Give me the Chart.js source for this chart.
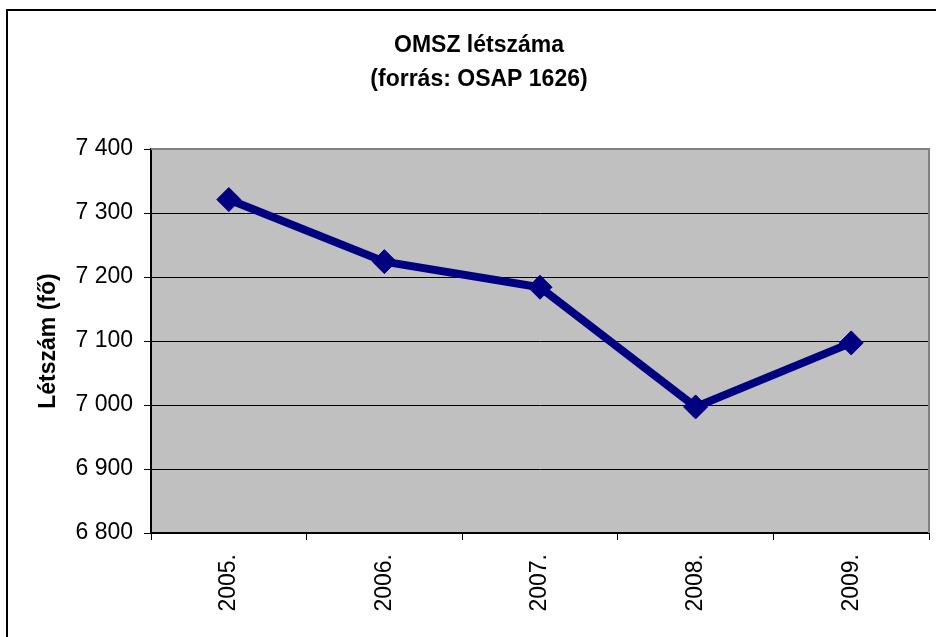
<!DOCTYPE html>
<html lang="hu">
  <head>
    <meta charset="UTF-8" />
    <meta name="viewport" content="width=device-width, initial-scale=1.0" />
    <title>OMSZ létszáma</title>
    <style>
      html, body { margin: 0; padding: 0; background: #fff; }
      .container { position: relative; width: 936px; height: 637px; }
    </style>
  </head>
  <body>
    <div class="container">
      <canvas id="myChart"></canvas>
    </div>
    <script src="https://cdn.jsdelivr.net/npm/chart.js@4/dist/chart.umd.min.js"></script>
    <script>
      const years = ['2005.', '2006.', '2007.', '2008.', '2009.'];
      const headcount = [7321, 7224, 7184, 6997, 7097];
      const yMin = 6800;
      const yMax = 7400;
      const yStep = 100;

      const fmt = (v) => String(v).replace(/\B(?=(\d{3})+(?!\d))/g, ' ');
      const family = '"Liberation Sans", Arial, sans-serif';

      // gray plot area, frame lines, outer chart border
      const excelLook = {
        id: 'excelLook',
        beforeDraw(chart) {
          const { ctx, chartArea: a } = chart;
          ctx.save();
          ctx.fillStyle = '#fff';
          ctx.fillRect(0, 0, chart.width, chart.height);
          ctx.fillStyle = '#c0c0c0';
          ctx.fillRect(a.left, a.top, a.right - a.left, a.bottom - a.top);
          ctx.strokeStyle = '#000';
          ctx.lineWidth = 2;
          ctx.beginPath();
          ctx.moveTo(7, chart.height);
          ctx.lineTo(7, 10);
          ctx.lineTo(chart.width, 10);
          ctx.stroke();
          ctx.restore();
        },
        beforeDatasetsDraw(chart) {
          const { ctx, chartArea: a } = chart;
          ctx.save();
          ctx.strokeStyle = '#808080';
          ctx.lineWidth = 2;
          ctx.beginPath();
          ctx.moveTo(a.left, a.top);
          ctx.lineTo(a.right, a.top);
          ctx.lineTo(a.right, a.bottom);
          ctx.stroke();
          ctx.restore();
        },
      };

      const data = {
        labels: years,
        datasets: [
          {
            label: 'Létszám',
            data: headcount,
            borderColor: '#000080',
            backgroundColor: '#000080',
            borderWidth: 8,
            pointStyle: 'rectRot',
            pointRadius: 12,
            pointBorderWidth: 1,
            tension: 0,
          },
        ],
      };

      const config = {
        type: 'line',
        data: data,
        plugins: [excelLook],
        options: {
          animation: false,
          responsive: true,
          maintainAspectRatio: false,
          layout: { autoPadding: false, padding: { left: 29, right: 7, top: 0, bottom: 0 } },
          plugins: {
            legend: { display: false },
            tooltip: { enabled: false },
            title: {
              display: true,
              text: ['OMSZ létszáma', '(forrás: OSAP 1626)'],
              color: '#000',
              font: { family: family, size: 23, weight: 'bold', lineHeight: 1.5 },
              padding: { top: 28, bottom: 52 },
            },
          },
          scales: {
            x: {
              offset: true,
              afterFit: (s) => {
                s.height = 104;
                s.paddingLeft = 0;
                s.paddingRight = 0;
              },
              grid: {
                offset: true,
                drawOnChartArea: false,
                drawTicks: true,
                tickLength: 7,
                color: '#000',
              },
              border: { color: '#000', width: 2 },
              ticks: {
                autoSkip: false,
                minRotation: 90,
                maxRotation: 90,
                padding: 14,
                color: '#000',
                font: { family: family, size: 23 },
              },
            },
            y: {
              min: yMin,
              max: yMax,
              afterFit: (s) => { s.width = 122; },
              grid: {
                color: (c) => (c.tick && c.tick.value === yMax ? '#808080' : '#000'),
                tickColor: '#000',
                tickLength: 7,
              },
              border: { color: '#000', width: 2 },
              ticks: {
                stepSize: yStep,
                padding: 11,
                color: '#000',
                font: { family: family, size: 23 },
                callback: (v) => fmt(v),
              },
              title: {
                display: true,
                text: 'Létszám (fő)',
                color: '#000',
                font: { family: family, size: 23, weight: 'bold' },
                padding: { top: 6, bottom: 0 },
              },
            },
          },
        },
      };

      const myChart = new Chart(document.getElementById('myChart'), config);
    </script>
  </body>
</html>
